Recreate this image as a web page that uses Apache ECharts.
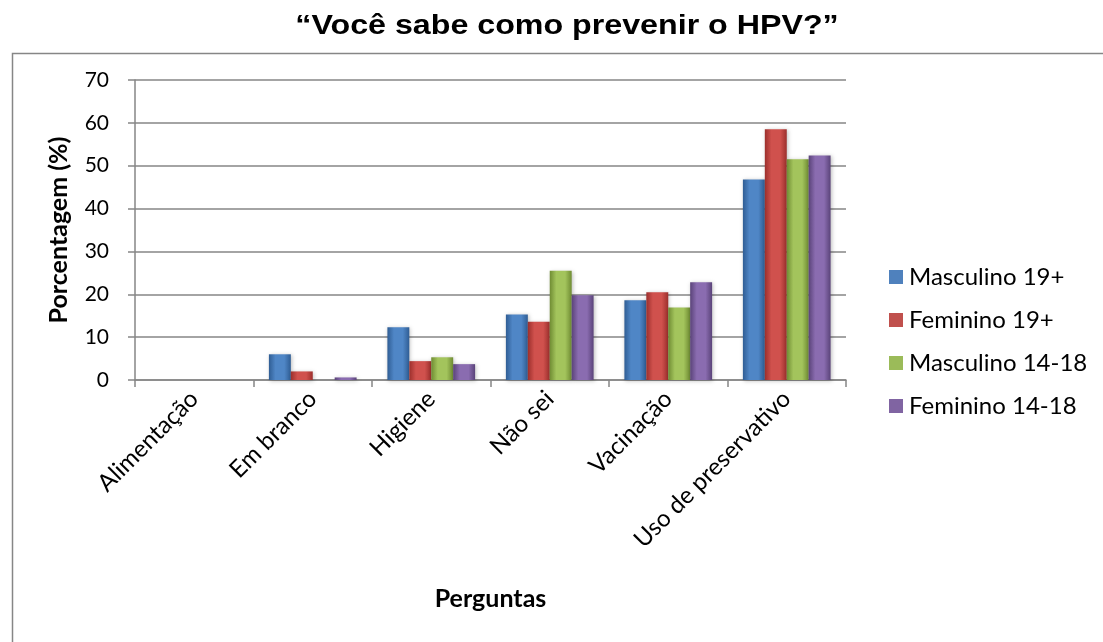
<!DOCTYPE html>
<html><head><meta charset="utf-8">
<script src="https://cdn.jsdelivr.net/npm/echarts@6/dist/echarts.min.js"></script>
<style>html,body{margin:0;padding:0;background:#fff}#c{width:1103px;height:642px}</style>
</head><body><div id="c"></div>
<script>
const categories = ["Alimentação", "Em branco", "Higiene", "Não sei", "Vacinação", "Uso de preservativo"];
const seriesNames = ["Masculino 19+", "Feminino 19+", "Masculino 14-18", "Feminino 14-18"];
const masc19 = [0, 6.0, 12.3, 15.3, 18.6, 46.8];
const fem19 = [0, 2.0, 4.4, 13.6, 20.5, 58.5];
const masc1418 = [0, 0, 5.3, 25.5, 16.9, 51.5];
const fem1418 = [0, 0.6, 3.7, 19.8, 22.8, 52.4];
const yTicks = [0, 10, 20, 30, 40, 50, 60, 70];
const titleText = '“Você sabe como prevenir o HPV?”';

const seriesData = [masc19, fem19, masc1418, fem1418];
const colors = [
  ["#2f5d94", "#4f86c6", "#2f5d94"],
  ["#9c2f2c", "#d0514d", "#9c2f2c"],
  ["#6f8c33", "#a3c45c", "#6f8c33"],
  ["#5a4379", "#8a6cb0", "#5a4379"]
];
const legendColors = ["#4F81BD", "#C0504D", "#9BBB59", "#8064A2"];

function grad(c) {
  return new echarts.graphic.LinearGradient(0, 0, 1, 0, [
    {offset: 0, color: c[0]}, {offset: 0.3, color: c[1]}, {offset: 0.7, color: c[1]}, {offset: 1, color: c[2]}
  ]);
}

const chart = echarts.init(document.getElementById('c'), null, {renderer: 'canvas'});
chart.setOption({
  animation: false,
  backgroundColor: '#fff',
  graphic: [{
    type: 'rect', left: 10, top: 51, silent: true,
    shape: {x: 0, y: 0, width: 1100, height: 600},
    style: {fill: 'none', stroke: '#868686', lineWidth: 1.5}
  }, {
    type: 'text', x: 567, y: 26, scaleX: 1.15, silent: true,
    style: {text: titleText, x: 0, y: 0, textAlign: 'center', textVerticalAlign: 'middle',
      fontFamily: 'Liberation Sans', fontWeight: 'bold', fontSize: 28, fill: '#000'}
  }],
  legend: {
    orient: 'vertical', left: 884, top: 260, itemGap: 19,
    itemWidth: 14, itemHeight: 14, icon: 'rect',
    data: seriesNames.map((n, i) => ({name: n, itemStyle: {color: legendColors[i]}})),
    textStyle: {fontFamily: 'Lato', fontSize: 24, color: '#000', padding: [0, 0, 0, 1]}
  },
  grid: {left: 135, right: 257, top: 80, bottom: 262, containLabel: false},
  xAxis: {
    type: 'category', data: categories,
    name: 'Perguntas', nameLocation: 'middle', nameGap: 206,
    nameTextStyle: {fontFamily: 'Lato', fontWeight: 'bold', fontSize: 25, color: '#000'},
    axisLine: {lineStyle: {color: '#868686', width: 1.5}},
    axisTick: {show: true, length: 7, lineStyle: {color: '#868686', width: 1.5}},
    axisLabel: {rotate: 45, fontFamily: 'Lato', fontSize: 24, color: '#000', margin: 15}
  },
  yAxis: {
    type: 'value', min: 0, max: 70, interval: 10,
    name: 'Porcentagem (%)', nameLocation: 'middle', nameGap: 64,
    nameTextStyle: {fontFamily: 'Lato', fontWeight: 'bold', fontSize: 25, color: '#000'},
    axisLine: {show: true, lineStyle: {color: '#868686', width: 1.5}},
    axisTick: {show: true, length: 7, lineStyle: {color: '#868686', width: 1.5}},
    splitLine: {lineStyle: {color: '#868686', width: 1.5}},
    axisLabel: {fontFamily: 'Lato', fontSize: 21, color: '#000', margin: 26,
      formatter: v => yTicks.includes(v) ? String(v) : ''}
  },
  series: seriesData.map((d, i) => ({
    name: seriesNames[i], type: 'bar', data: d,
    barGap: '0%', barCategoryGap: '26%',
    itemStyle: {color: grad(colors[i]), shadowColor: 'rgba(0,0,0,0.25)', shadowBlur: 4, shadowOffsetX: 1, shadowOffsetY: 1}
  }))
});
</script></body></html>
